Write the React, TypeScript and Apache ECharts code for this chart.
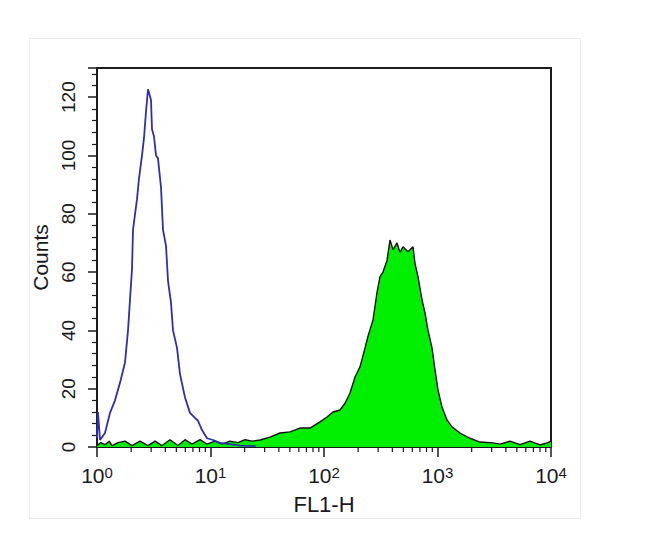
import React, { useEffect, useRef } from "react";
import * as echarts from "echarts";

// Blue (control) histogram: FL1-H channel values and counts
const blueX = [1.0, 1.02, 1.063, 1.176, 1.302, 1.441, 1.595, 1.765, 1.876, 1.953, 2.034, 2.076, 2.251, 2.344, 2.492, 2.595, 2.702, 2.814, 2.991, 3.052, 3.178, 3.31, 3.446, 3.664, 3.815, 4.055, 4.223, 4.487, 4.673, 5.068, 5.386, 5.962, 6.597, 7.302, 7.762, 8.417, 9.316, 10.52, 12.13, 14.85, 18, 25];
const blueY = [3, 12, 2.4, 4.8, 11.7, 16, 22, 29, 40, 50.5, 61, 74.5, 85, 92, 100, 106, 115, 122.7, 119, 109, 106.5, 100, 99, 89, 74.5, 69, 57, 49.5, 40, 34, 25, 17, 11.7, 10, 9, 5.8, 3, 2.4, 1.4, 1, 0.5, 0.3];

// Green (stained) histogram
const greenX = [1.0, 1.08, 1.176, 1.28, 1.355, 1.53, 1.765, 2.034, 2.393, 2.814, 3.243, 3.738, 4.398, 5.172, 5.962, 6.871, 8.084, 9.316, 10.95, 12.63, 14.85, 17.47, 20.14, 23.21, 27.3, 33.43, 40.96, 50.16, 61.45, 75.27, 92.21, 106.3, 120, 138.4, 153.1, 169.5, 187.6, 207.6, 229.8, 244.2, 270.2, 293.1, 311.5, 331.1, 359, 381.5, 405.5, 439.7, 467.3, 496.6, 549.7, 608.4, 633.6, 673.3, 730.2, 776.2, 824.9, 894.4, 950.6, 1010, 1095, 1213, 1342, 1578, 1934, 2368, 3083, 3554, 4354, 5333, 6531, 8000, 9410, 10000];
const greenY = [0.5, 1.5, 0.8, 2, 0.5, 1.5, 2, 0.5, 2, 0.5, 2, 0.5, 2.5, 0.5, 2.5, 1, 2.5, 1, 2, 1, 2, 1.5, 2.5, 2, 2.4, 3.4, 4.8, 5.2, 6.5, 6.5, 8.6, 10.3, 12, 12.7, 15, 18.5, 24, 27.5, 34, 38, 43.6, 53, 58.4, 60, 64, 71, 67.7, 70, 66.7, 68.7, 67, 68.7, 63, 58.4, 50.5, 46, 40, 34, 26.5, 19.6, 13.7, 9.3, 6.9, 4.8, 3, 1.7, 1.4, 1, 2, 0.8, 2, 0.7, 1.5, 2];

// Log-axis minor tick positions
const minorTickValues = [2, 3, 4, 5, 6, 7, 8, 9, 20, 30, 40, 50, 60, 70, 80, 90, 200, 300, 400, 500, 600, 700, 800, 900, 2000, 3000, 4000, 5000, 6000, 7000, 8000, 9000];

const FONT = "Liberation Sans, Arial, Helvetica, sans-serif";
const INK = "#1a1a1a";

export default function App() {
  const ref = useRef<HTMLDivElement>(null);
  useEffect(() => {
    if (!ref.current) return;
    const chart = echarts.init(ref.current, null, { renderer: "svg" });
    const option = {
      animation: false,
      backgroundColor: "#ffffff",
      graphic: [
        {
          type: "rect",
          shape: { x: 29.5, y: 38.5, width: 551, height: 480 },
          style: { fill: "none", stroke: "#ececec", lineWidth: 1 },
          silent: true,
        },
      ],
      grid: {
        left: 97,
        right: 99,
        top: 68,
        bottom: 86,
        show: true,
        borderColor: INK,
        borderWidth: 2,
        backgroundColor: "transparent",
      },
      xAxis: {
        type: "log",
        logBase: 10,
        min: 1,
        max: 10000,
        splitNumber: 4,
        name: "FL1-H",
        nameLocation: "middle",
        nameGap: 46,
        nameTextStyle: { fontFamily: FONT, fontSize: 22, color: INK },
        axisLine: { show: true, lineStyle: { color: INK, width: 2 } },
        axisTick: { show: true, inside: false, length: 10, lineStyle: { color: INK, width: 1.5 } },
        splitLine: { show: false },
        axisLabel: {
          margin: 18,
          formatter: (v: number) => `{b|10}{s|${Math.round(Math.log10(v))}}`,
          rich: {
            b: { fontFamily: FONT, fontSize: 21, color: INK, lineHeight: 21, verticalAlign: "bottom", padding: [16, 0, 0, 0] },
            s: { fontFamily: FONT, fontSize: 15, color: INK, lineHeight: 15, verticalAlign: "top" },
          },
        },
      },
      yAxis: {
        type: "value",
        min: 0,
        max: 130,
        interval: 20,
        name: "Counts",
        nameLocation: "middle",
        nameGap: 42,
        nameRotate: 90,
        nameTextStyle: { fontFamily: FONT, fontSize: 21, color: INK },
        axisLine: { show: true, lineStyle: { color: INK, width: 2 } },
        axisTick: { show: true, inside: false, length: 9, lineStyle: { color: INK, width: 1.5 } },
        minorTick: { show: true, splitNumber: 5, length: 5, lineStyle: { color: INK, width: 1.2 } },
        splitLine: { show: false },
        axisLabel: {
          rotate: 90,
          margin: 19,
          fontFamily: FONT,
          fontSize: 19,
          color: INK,
          formatter: (v: number) => (v % 20 === 0 ? String(v) : ""),
        },
      },
      series: [
        {
          type: "line",
          name: "stained",
          data: greenX.map((x, i) => [x, greenY[i]]),
          symbol: "none",
          lineStyle: { color: "#111111", width: 1.4 },
          areaStyle: { color: "#00ee00", opacity: 1 },
          z: 2,
        },
        {
          type: "line",
          name: "control",
          data: blueX.map((x, i) => [x, blueY[i]]),
          symbol: "none",
          lineStyle: { color: "#2e2eb0", width: 1.8 },
          z: 3,
        },
        {
          type: "custom",
          name: "minorTicks",
          data: minorTickValues.map((v) => [v, 0]),
          clip: false,
          silent: true,
          z: 4,
          renderItem: (params: any, api: any) => {
            const p = api.coord([api.value(0), 0]);
            return {
              type: "line",
              shape: { x1: p[0], y1: p[1], x2: p[0], y2: p[1] + 5 },
              style: { stroke: INK, lineWidth: 1.2 },
            };
          },
        },
      ],
    };
    chart.setOption(option as any);
    return () => chart.dispose();
  }, []);
  return (
    <div
      ref={ref}
      style={{ position: "absolute", left: 0, top: 0, width: 650, height: 533 }}
    />
  );
}
